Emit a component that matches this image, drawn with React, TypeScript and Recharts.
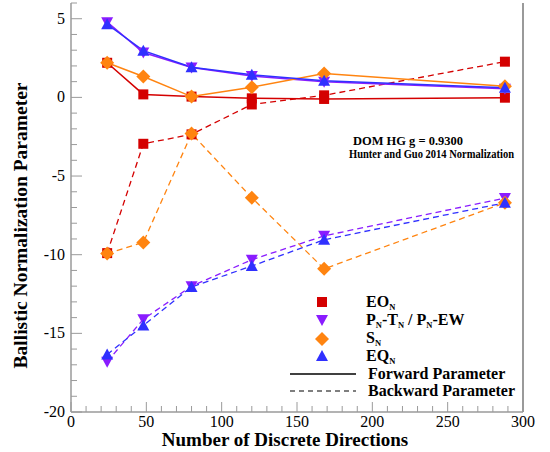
import React from "react";
import { LineChart, Line, XAxis, YAxis } from "recharts";

// number of discrete directions (x)
const directions = [24, 48, 80, 120, 168, 288];

// forward / backward parameters per quadrature set
const eoForward = [2.2, 0.19, 0.05, -0.06, -0.1, -0.02];
const eoBackward = [-9.9, -2.95, -2.35, -0.45, 0.13, 2.27];
const pnForward = [4.78, 2.85, 1.9, 1.36, 1.0, 0.55];
const pnBackward = [-16.8, -14.1, -12.0, -10.32, -8.8, -6.4];
const snForward = [2.2, 1.33, 0.05, 0.65, 1.52, 0.7];
const snBackward = [-9.92, -9.22, -2.3, -6.38, -10.9, -6.7];
const eqForward = [4.65, 2.97, 1.92, 1.44, 1.05, 0.62];
const eqBackward = [-16.35, -14.5, -12.05, -10.72, -9.05, -6.7];

const xTicks = [0, 10, 20, 30, 40, 50, 60, 70, 80, 90, 100, 110, 120, 130, 140, 150, 160, 170, 180, 190, 200, 210, 220, 230, 240, 250, 260, 270, 280, 290, 300];
const yTicks = [-20, -19, -18, -17, -16, -15, -14, -13, -12, -11, -10, -9, -8, -7, -6, -5, -4, -3, -2, -1, 0, 1, 2, 3, 4, 5, 6];

const RED = "#d40000";
const PURPLE = "#8a1cff";
const ORANGE = "#ff8410";
const BLUE = "#3030ff";
const AXIS = "#9a9a9a";
const SERIF = '"Liberation Serif", "Times New Roman", "DejaVu Serif", serif';
const serif = { fontFamily: SERIF };

const data = directions.map((d, i) => ({
  n: d,
  eoF: eoForward[i],
  eoB: eoBackward[i],
  pnF: pnForward[i],
  pnB: pnBackward[i],
  snF: snForward[i],
  snB: snBackward[i],
  eqF: eqForward[i],
  eqB: eqBackward[i],
}));

const square = (color: string) => (p: any) => (
  <rect key={p.key} x={p.cx - 5} y={p.cy - 5} width={10} height={10} fill={color} />
);
const downTri = (color: string) => (p: any) => (
  <polygon key={p.key} points={`${p.cx - 6},${p.cy - 5} ${p.cx + 6},${p.cy - 5} ${p.cx},${p.cy + 6}`} fill={color} />
);
const upTri = (color: string) => (p: any) => (
  <polygon key={p.key} points={`${p.cx - 6},${p.cy + 5} ${p.cx + 6},${p.cy + 5} ${p.cx},${p.cy - 6}`} fill={color} />
);
const diamond = (color: string) => (p: any) => (
  <polygon key={p.key} points={`${p.cx},${p.cy - 7} ${p.cx + 7},${p.cy} ${p.cx},${p.cy + 7} ${p.cx - 7},${p.cy}`} fill={color} />
);

const BottomTick = (props: any) => {
  const { x, y, payload } = props;
  const major = payload.value % 50 === 0;
  return (
    <g>
      <line x1={x} y1={y} x2={x} y2={y - (major ? 10 : 6)} stroke={AXIS} />
      {major && (
        <text x={x} y={y + 15} textAnchor="middle" fontSize={16} style={serif} fill="#000">
          {payload.value}
        </text>
      )}
    </g>
  );
};

const TopTick = (props: any) => {
  const { x, y, payload } = props;
  const major = payload.value % 50 === 0;
  return <line x1={x} y1={y} x2={x} y2={y + (major ? 10 : 6)} stroke={AXIS} />;
};

const LeftTick = (props: any) => {
  const { x, y, payload } = props;
  const major = payload.value % 5 === 0;
  return (
    <g>
      <line x1={x} y1={y} x2={x + (major ? 11 : 6)} y2={y} stroke={AXIS} />
      {major && (
        <text x={x - 6} y={y + 5} textAnchor="end" fontSize={16} style={serif} fill="#000">
          {payload.value}
        </text>
      )}
    </g>
  );
};

const Sub = ({ children }: { children: React.ReactNode }) => (
  <tspan fontSize={8.5} dy={2.5}>{children}</tspan>
);

const App: React.FC = () => {
  const lx = 322;
  const tx = 366;
  return (
    <div style={{ position: "absolute", left: 0, top: 0, width: 550, height: 452, background: "#fff", fontFamily: SERIF }}>
      <LineChart width={550} height={452} data={data} margin={{ top: 3, right: 0, bottom: 0, left: 0 }}>
        <XAxis
          dataKey="n"
          type="number"
          domain={[0, 300]}
          ticks={xTicks}
          interval={0}
          height={40}
          tickSize={0}
          tickMargin={0}
          tick={<BottomTick />}
          axisLine={{ stroke: AXIS, strokeWidth: 1.5 }}
          label={{
            value: "Number of Discrete Directions",
            position: "insideBottom",
            offset: 6,
            dx: -12,
            style: { fontFamily: SERIF, fontWeight: "bold", fontSize: 19, fill: "#000" },
          }}
        />
        <XAxis
          xAxisId="top"
          orientation="top"
          dataKey="n"
          type="number"
          domain={[0, 300]}
          ticks={xTicks}
          interval={0}
          height={0}
          tickSize={0}
          tickMargin={0}
          tick={<TopTick />}
          axisLine={{ stroke: AXIS, strokeWidth: 1.5 }}
        />
        <YAxis
          type="number"
          domain={[-20, 6]}
          ticks={yTicks}
          interval={0}
          width={71}
          tickSize={0}
          tickMargin={0}
          tick={<LeftTick />}
          axisLine={{ stroke: AXIS, strokeWidth: 1.5 }}
          label={{
            value: "Ballistic Normalization Parameter",
            angle: -90,
            position: "insideLeft",
            offset: 20,
            dy: 18,
            style: { textAnchor: "middle", fontFamily: SERIF, fontWeight: "bold", fontSize: 19.5, fill: "#000" },
          }}
        />
        <YAxis
          yAxisId="right"
          orientation="right"
          type="number"
          domain={[-20, 6]}
          width={27}
          tick={false}
          tickLine={false}
          axisLine={{ stroke: AXIS, strokeWidth: 2 }}
        />

        <Line dataKey="eoB" stroke={RED} strokeWidth={1.3} strokeDasharray="6 4" dot={square(RED)} isAnimationActive={false} />
        <Line dataKey="pnB" stroke={PURPLE} strokeWidth={1.3} strokeDasharray="6 4" dot={downTri(PURPLE)} isAnimationActive={false} />
        <Line dataKey="snB" stroke={ORANGE} strokeWidth={1.3} strokeDasharray="6 4" dot={diamond(ORANGE)} isAnimationActive={false} />
        <Line dataKey="eqB" stroke={BLUE} strokeWidth={1.3} strokeDasharray="6 4" dot={upTri(BLUE)} isAnimationActive={false} />
        <Line dataKey="eoF" stroke={RED} strokeWidth={1.5} dot={square(RED)} isAnimationActive={false} />
        <Line dataKey="pnF" stroke={PURPLE} strokeWidth={1.5} dot={downTri(PURPLE)} isAnimationActive={false} />
        <Line dataKey="snF" stroke={ORANGE} strokeWidth={1.5} dot={diamond(ORANGE)} isAnimationActive={false} />
        <Line dataKey="eqF" stroke={BLUE} strokeWidth={1.5} dot={upTri(BLUE)} isAnimationActive={false} />

        {/* annotation */}
        <text x={353} y={145} style={serif} fontWeight="bold" fontSize={12} fill="#000" textLength={110} lengthAdjust="spacingAndGlyphs">
          DOM HG g = 0.9300
        </text>
        <text x={349} y={157.5} style={serif} fontWeight="bold" fontSize={12} fill="#000" textLength={165} lengthAdjust="spacingAndGlyphs">
          Hunter and Guo 2014 Normalization
        </text>

        {/* legend */}
        <g style={serif} fontWeight="bold" fontSize={16} fill="#000">
          <rect x={lx - 5} y={297} width={10} height={10} fill={RED} />
          <text x={tx} y={307}>EO<Sub>N</Sub></text>
          <polygon points={`${lx - 6},${315} ${lx + 6},${315} ${lx},${326}`} fill={PURPLE} />
          <text x={tx} y={325}>
            P<Sub>N</Sub><tspan dy={-2.5}>-T</tspan><Sub>N</Sub><tspan dy={-2.5}> / P</tspan><Sub>N</Sub><tspan dy={-2.5}>-EW</tspan>
          </text>
          <polygon points={`${lx},${332} ${lx + 7},${339} ${lx},${346} ${lx - 7},${339}`} fill={ORANGE} />
          <text x={tx} y={343}>S<Sub>N</Sub></text>
          <polygon points={`${lx - 6},${361} ${lx + 6},${361} ${lx},${350}`} fill={BLUE} />
          <text x={tx} y={361}>EQ<Sub>N</Sub></text>
          <line x1={290} y1={374} x2={356} y2={374} stroke="#000" strokeWidth={1.5} />
          <text x={368} y={379}>Forward Parameter</text>
          <line x1={290} y1={391} x2={356} y2={391} stroke="#000" strokeWidth={1.2} strokeDasharray="5 4" />
          <text x={368} y={396}>Backward Parameter</text>
        </g>
      </LineChart>
    </div>
  );
};

export default App;
